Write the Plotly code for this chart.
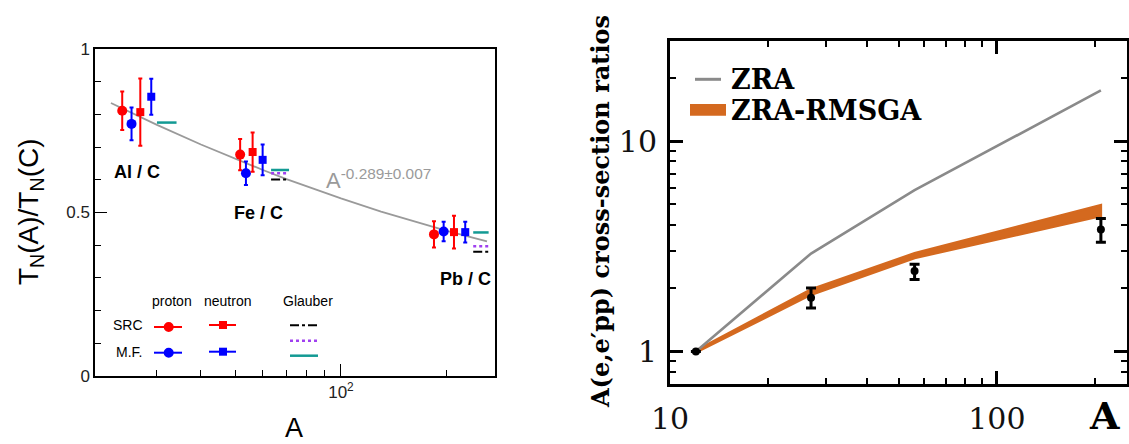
import math
import plotly.graph_objects as go

W, H = 1129, 444

# ---------------- Left panel: T_N(A)/T_N(C) ----------------
src_p_A = [23.9, 51.7, 183.8]
src_p_val = [0.811, 0.677, 0.433]
src_p_err = [0.059, 0.048, 0.040]

mf_p_A = [25.4, 53.7, 195.8]
mf_p_val = [0.771, 0.620, 0.442]
mf_p_err = [0.050, 0.036, 0.030]

src_n_A = [26.9, 56.1, 209.5]
src_n_val = [0.807, 0.685, 0.440]
src_n_err = [0.103, 0.060, 0.050]

mf_n_A = [28.9, 59.9, 225.5]
mf_n_val = [0.854, 0.661, 0.440]
mf_n_err = [0.055, 0.047, 0.032]

glauber_A_lo = [30.0, 63.3, 237.6]
glauber_A_hi = [34.1, 71.2, 262.8]
glauber_src = [None, 0.601, 0.380]   # black dash-dot
glauber_mid = [None, 0.620, 0.397]   # purple dotted
glauber_mf = [0.775, 0.630, 0.439]   # teal solid

fit_A = [22.2, 30, 40, 50, 60, 70, 80, 100, 130, 160, 200, 260]
fit_val = [0.835, 0.768, 0.708, 0.664, 0.630, 0.602, 0.579, 0.543, 0.503, 0.474, 0.444, 0.412]

pair_labels = ["Al / C", "Fe / C", "Pb / C"]
left_yticks = [0, 0.5, 1]
left_yticklabels = ["0", "0.5", "1"]
left_xticks = [100]
left_xticklabels = ["10<sup>2</sup>"]

# ---------------- Right panel: A(e,e'pp) ratios ----------------
A_nuclei = [12, 27, 56, 208]
zra = [1.0, 2.92, 5.84, 17.4]
rmsga_lo = [0.99, 1.86, 2.78, 4.40]
rmsga_hi = [1.01, 1.97, 2.93, 4.96]
exp_val = [1.0, 1.80, 2.41, 3.80]
exp_up = [0.0, 0.20, 0.19, 0.49]
exp_dn = [0.0, 0.19, 0.21, 0.50]
right_xticks = [10, 100]
right_yticks = [1, 10]

RED = "#ff0000"
BLUE = "#0000ff"
TEAL = "#139a94"
PURPLE = "#a040f0"
ORANGE = "#d4691f"
GREY = "#8a8a8a"
SANS = "Liberation Sans, Arial, sans-serif"
SERIF = "DejaVu Serif, serif"


def fx(p):
    return p / W


def fy(p):
    return 1 - p / H


fig = go.Figure()

# fit line
fig.add_trace(go.Scatter(x=fit_A, y=fit_val, mode="lines",
                         line=dict(color="#9a9a9a", width=1.8),
                         xaxis="x", yaxis="y", showlegend=False))

# Glauber segments
for lo, hi, v in zip(glauber_A_lo, glauber_A_hi, glauber_src):
    if v is not None:
        fig.add_trace(go.Scatter(x=[lo, hi], y=[v, v], mode="lines",
                                 line=dict(color="black", width=2, dash="dashdot"),
                                 xaxis="x", yaxis="y", showlegend=False))
for lo, hi, v in zip(glauber_A_lo, glauber_A_hi, glauber_mid):
    if v is not None:
        fig.add_trace(go.Scatter(x=[lo, hi], y=[v, v], mode="lines",
                                 line=dict(color=PURPLE, width=2.5, dash="dot"),
                                 xaxis="x", yaxis="y", showlegend=False))
for lo, hi, v in zip(glauber_A_lo, glauber_A_hi, glauber_mf):
    fig.add_trace(go.Scatter(x=[lo, hi], y=[v, v], mode="lines",
                             line=dict(color=TEAL, width=2.5),
                             xaxis="x", yaxis="y", showlegend=False))

series = [
    (src_p_A, src_p_val, src_p_err, RED, "circle", 10),
    (mf_p_A, mf_p_val, mf_p_err, BLUE, "circle", 10),
    (src_n_A, src_n_val, src_n_err, RED, "square", 8),
    (mf_n_A, mf_n_val, mf_n_err, BLUE, "square", 8),
]
for xs, ys, es, col, sym, sz in series:
    fig.add_trace(go.Scatter(
        x=xs, y=ys, mode="markers",
        marker=dict(color=col, symbol=sym, size=sz, line=dict(width=0)),
        error_y=dict(type="data", array=es, color=col, thickness=2, width=2),
        xaxis="x", yaxis="y", showlegend=False))

# right panel: band
fig.add_trace(go.Scatter(
    x=A_nuclei + A_nuclei[::-1], y=rmsga_hi + rmsga_lo[::-1],
    mode="lines", fill="toself", fillcolor=ORANGE,
    line=dict(color=ORANGE, width=2.5),
    xaxis="x2", yaxis="y2", showlegend=False))
fig.add_trace(go.Scatter(
    x=A_nuclei, y=zra, mode="lines", line=dict(color=GREY, width=2.6),
    xaxis="x2", yaxis="y2", showlegend=False))
fig.add_trace(go.Scatter(
    x=A_nuclei, y=exp_val, mode="markers",
    marker=dict(color="black", size=8),
    error_y=dict(type="data", symmetric=False, array=exp_up, arrayminus=exp_dn,
                 color="black", thickness=3, width=5),
    xaxis="x2", yaxis="y2", showlegend=False))

left_ax_common = dict(showline=True, linecolor="black", linewidth=1.5, mirror=True,
                      showgrid=False, zeroline=False, automargin=False)

fig.update_layout(
    width=W, height=H,
    autosize=False,
    margin=dict(l=0, r=0, t=0, b=0, pad=0),
    paper_bgcolor="white", plot_bgcolor="white",
    xaxis=dict(domain=[fx(95), fx(495)], anchor="y", type="log",
               range=[math.log10(20), math.log10(274)],
               tickmode="array", tickvals=left_xticks, ticktext=left_xticklabels,
               ticks="inside", ticklen=12, tickwidth=1, tickcolor="black",
               minor=dict(tickmode="array", tickvals=[30, 40, 50, 60, 70, 80, 90, 200],
                          ticks="inside", ticklen=6, tickwidth=1, tickcolor="black"),
               tickfont=dict(family=SANS, size=17, color="#222"),
               **left_ax_common),
    yaxis=dict(domain=[fy(376), fy(49)], anchor="x", range=[0, 1],
               tickmode="array", tickvals=left_yticks, ticktext=left_yticklabels,
               ticks="inside", ticklen=12, tickwidth=1, tickcolor="black",
               minor=dict(tickmode="array", tickvals=[0.1, 0.2, 0.3, 0.4, 0.6, 0.7, 0.8, 0.9],
                          ticks="inside", ticklen=6, tickwidth=1, tickcolor="black"),
               tickfont=dict(family=SANS, size=17, color="#222"),
               **left_ax_common),
    xaxis2=dict(domain=[fx(670), fx(1127)], anchor="y2", type="log",
                range=[1, math.log10(250)],
                tickmode="array", tickvals=right_xticks, ticktext=["10", "100"],
                ticks="inside", ticklen=13, tickwidth=3, tickcolor="black",
                minor=dict(tickmode="array",
                           tickvals=[20, 30, 40, 50, 60, 70, 80, 90, 200],
                           ticks="inside", ticklen=6, tickwidth=2, tickcolor="black"),
                tickfont=dict(family=SERIF, size=30, color="#111"),
                showline=True, linecolor="black", linewidth=3, mirror="ticks",
                showgrid=False, zeroline=False, ticklabelstandoff=6, automargin=False),
    yaxis2=dict(domain=[fy(384), fy(40.7)], anchor="x2", type="log",
                range=[math.log10(0.7), math.log10(30)],
                tickmode="array", tickvals=right_yticks, ticktext=["1", "10"],
                ticks="inside", ticklen=13, tickwidth=3, tickcolor="black",
                minor=dict(tickmode="array",
                           tickvals=[0.8, 0.9, 2, 3, 4, 5, 6, 7, 8, 9, 20],
                           ticks="inside", ticklen=6, tickwidth=2, tickcolor="black"),
                tickfont=dict(family=SERIF, size=30, color="#111"),
                showline=True, linecolor="black", linewidth=3, mirror="ticks",
                showgrid=False, zeroline=False, ticklabelstandoff=4, automargin=False),
)

ann = []


def add_text(text, x, y, size, family, color="black", angle=0, xanchor="center",
             yanchor="middle"):
    ann.append(dict(text=text, x=fx(x), y=fy(y), xref="paper", yref="paper",
                    showarrow=False, textangle=angle, xanchor=xanchor, yanchor=yanchor,
                    font=dict(family=family, size=size, color=color)))


# left titles
add_text("T<sub>N</sub>(A)/T<sub>N</sub>(C)", 30, 212, 28, SANS, angle=-90)
add_text("A", 294, 428, 27, SANS)
# pair labels
pair_pos = [(136.7, 171.7), (258.3, 213.3), (465.5, 279.3)]
for lab, (x, y) in zip(pair_labels, pair_pos):
    add_text("<b>" + lab + "</b>", x, y, 18, SANS)
add_text("A<sup>-0.289±0.007</sup>", 324, 179, 22, SANS, color="#9a9a9a", xanchor="left")
# left legend texts
add_text("proton", 172, 300.7, 14, SANS)
add_text("neutron", 227.5, 300.7, 14, SANS)
add_text("Glauber", 308, 300.7, 14, SANS)
add_text("SRC", 127.7, 324.7, 14, SANS)
add_text("M.F.", 128.5, 352, 14, SANS)

# right titles
add_text("<b>A(e,e′pp) cross-section ratios</b>", 600, 212, 24, SERIF, angle=-90)
add_text("<b>A</b>", 1104, 415, 38, SERIF)
add_text("<b>ZRA</b>", 729, 80, 27, SERIF, xanchor="left")
add_text("<b>ZRA-RMSGA</b>", 729, 110, 27, SERIF, xanchor="left")

fig.update_layout(annotations=ann)

shapes = []


def hline(x0, x1, y, color, width, dash="solid"):
    shapes.append(dict(type="line", xref="paper", yref="paper",
                       x0=fx(x0), x1=fx(x1), y0=fy(y), y1=fy(y),
                       line=dict(color=color, width=width, dash=dash)))


def blob(kind, cx, cy, r, color):
    shapes.append(dict(type=kind, xref="paper", yref="paper",
                       x0=fx(cx - r), x1=fx(cx + r), y0=fy(cy + r), y1=fy(cy - r),
                       fillcolor=color, line=dict(width=0)))


# left legend keys
hline(154, 182, 327, RED, 2)
blob("circle", 168.7, 327, 5, RED)
hline(209, 236, 325, RED, 2)
blob("rect", 223, 325, 4, RED)
hline(154, 182, 352.7, BLUE, 2)
blob("circle", 168.7, 352.7, 5, BLUE)
hline(209, 236, 351.7, BLUE, 2)
blob("rect", 223, 351.7, 4, BLUE)
hline(290, 317, 325.3, "black", 2, "dashdot")
hline(290, 317, 340.7, PURPLE, 2.5, "dot")
hline(290, 318, 355.7, TEAL, 2.5)

# right legend keys
hline(695, 721, 79.3, GREY, 3)
shapes.append(dict(type="rect", xref="paper", yref="paper",
                   x0=fx(690), x1=fx(726), y0=fy(115.7), y1=fy(104),
                   fillcolor=ORANGE, line=dict(width=0)))

fig.update_layout(shapes=shapes)

fig.write_html("out.html",
               config={"displayModeBar": False},
               post_script="document.body.style.margin='0px';"
                           "document.body.style.overflow='hidden';")
